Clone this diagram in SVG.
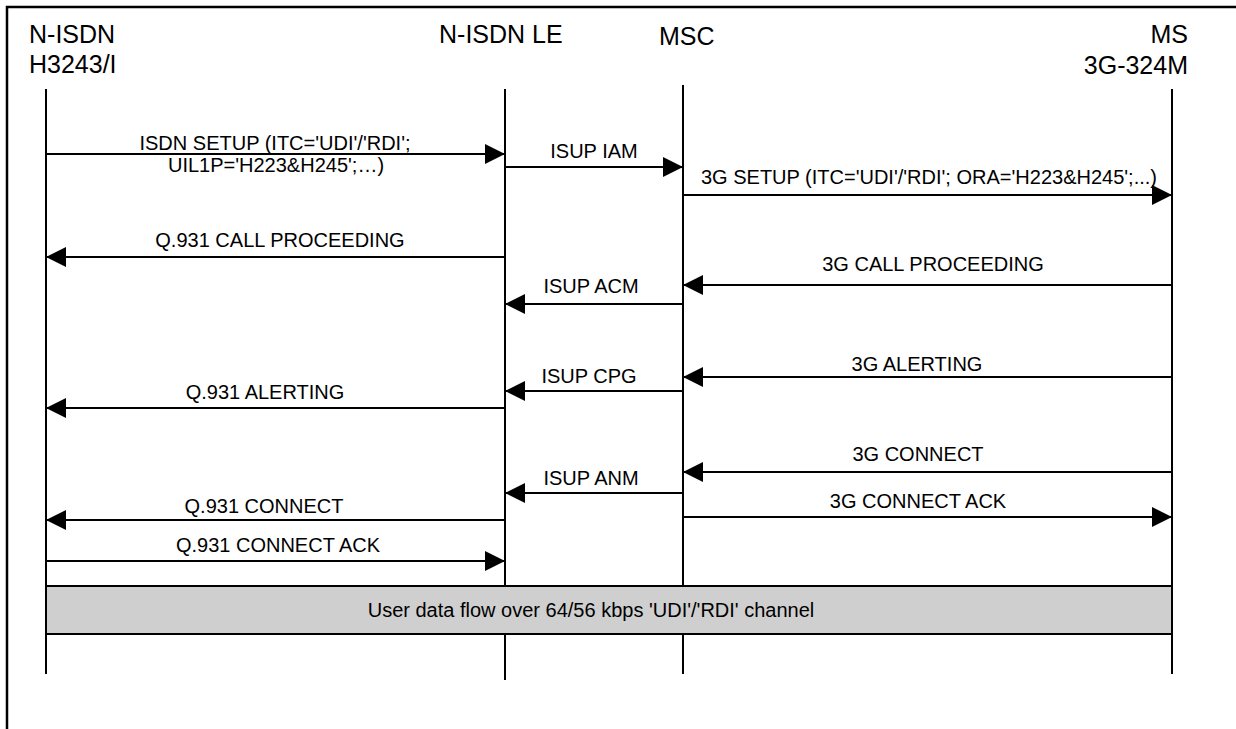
<svg xmlns="http://www.w3.org/2000/svg" width="1236" height="729" viewBox="0 0 1236 729">
<style>
text{font-family:"Liberation Sans",Arial,sans-serif;fill:#000}
.hd{font-size:25px}
.lb{font-size:20px;text-anchor:middle}
.life{stroke:#000;stroke-width:2;fill:none}
.msg{stroke:#000;stroke-width:2;fill:none;marker-end:url(#ah)}
.frame{stroke:#000;stroke-width:2.5;fill:none}
</style>
<defs>
<marker id="ah" viewBox="0 0 20 20" refX="20" refY="10" markerWidth="20" markerHeight="20" orient="auto" markerUnits="userSpaceOnUse">
<path d="M0,0 L20,10 L0,20 Z" fill="#000"/>
</marker>
</defs>
<rect width="1236" height="729" fill="#fff"/>
<path class="frame" d="M7,729 V7 H1236"/>

<g id="node-nisdn">
<text class="hd" x="29" y="43">N-ISDN</text>
<text class="hd" x="29" y="73">H3243/I</text>
<line class="life" x1="46" y1="89" x2="46" y2="674"/>
</g>
<g id="node-nisdn-le">
<text class="hd" x="439" y="43">N-ISDN LE</text>
<line class="life" x1="505" y1="89" x2="505" y2="680"/>
</g>
<g id="node-msc">
<text class="hd" x="659" y="45">MSC</text>
<line class="life" x1="683" y1="85" x2="683" y2="674"/>
</g>
<g id="node-ms">
<text class="hd" x="1188" y="43" text-anchor="end">MS</text>
<text class="hd" x="1188" y="74" text-anchor="end">3G-324M</text>
<line class="life" x1="1172" y1="89" x2="1172" y2="674"/>
</g>

<g id="data-flow">
<rect x="46" y="586" width="1126" height="48" fill="#cfcfcf" stroke="#000" stroke-width="2"/>
<text class="lb" x="591" y="617">User data flow over 64/56 kbps 'UDI'/'RDI' channel</text>
</g>

<g id="connectors">
<path class="msg" d="M46,154 H505"/>
<path class="msg" d="M505,167 H683"/>
<path class="msg" d="M683,195 H1172"/>
<path class="msg" d="M505,257 H46"/>
<path class="msg" d="M1172,285 H683"/>
<path class="msg" d="M683,304 H505"/>
<path class="msg" d="M1172,377 H683"/>
<path class="msg" d="M683,391 H505"/>
<path class="msg" d="M505,408 H46"/>
<path class="msg" d="M1172,472 H683"/>
<path class="msg" d="M683,493 H505"/>
<path class="msg" d="M505,520 H46"/>
<path class="msg" d="M683,517 H1172"/>
<path class="msg" d="M46,561 H505"/>
</g>

<g id="labels">
<text class="lb" x="275" y="150">ISDN SETUP (ITC='UDI'/'RDI';</text>
<text class="lb" x="276" y="172">UIL1P='H223&amp;H245';…)</text>
<text class="lb" x="594" y="158">ISUP IAM</text>
<text class="lb" x="929" y="184">3G SETUP (ITC='UDI'/'RDI'; ORA='H223&amp;H245';...)</text>
<text class="lb" x="280" y="247">Q.931 CALL PROCEEDING</text>
<text class="lb" x="933" y="271">3G CALL PROCEEDING</text>
<text class="lb" x="591" y="293">ISUP ACM</text>
<text class="lb" x="917" y="371">3G ALERTING</text>
<text class="lb" x="589" y="383">ISUP CPG</text>
<text class="lb" x="265" y="399">Q.931 ALERTING</text>
<text class="lb" x="918" y="461">3G CONNECT</text>
<text class="lb" x="591" y="485">ISUP ANM</text>
<text class="lb" x="918" y="508">3G CONNECT ACK</text>
<text class="lb" x="264" y="513">Q.931 CONNECT</text>
<text class="lb" x="278" y="552">Q.931 CONNECT ACK</text>
</g>
</svg>
